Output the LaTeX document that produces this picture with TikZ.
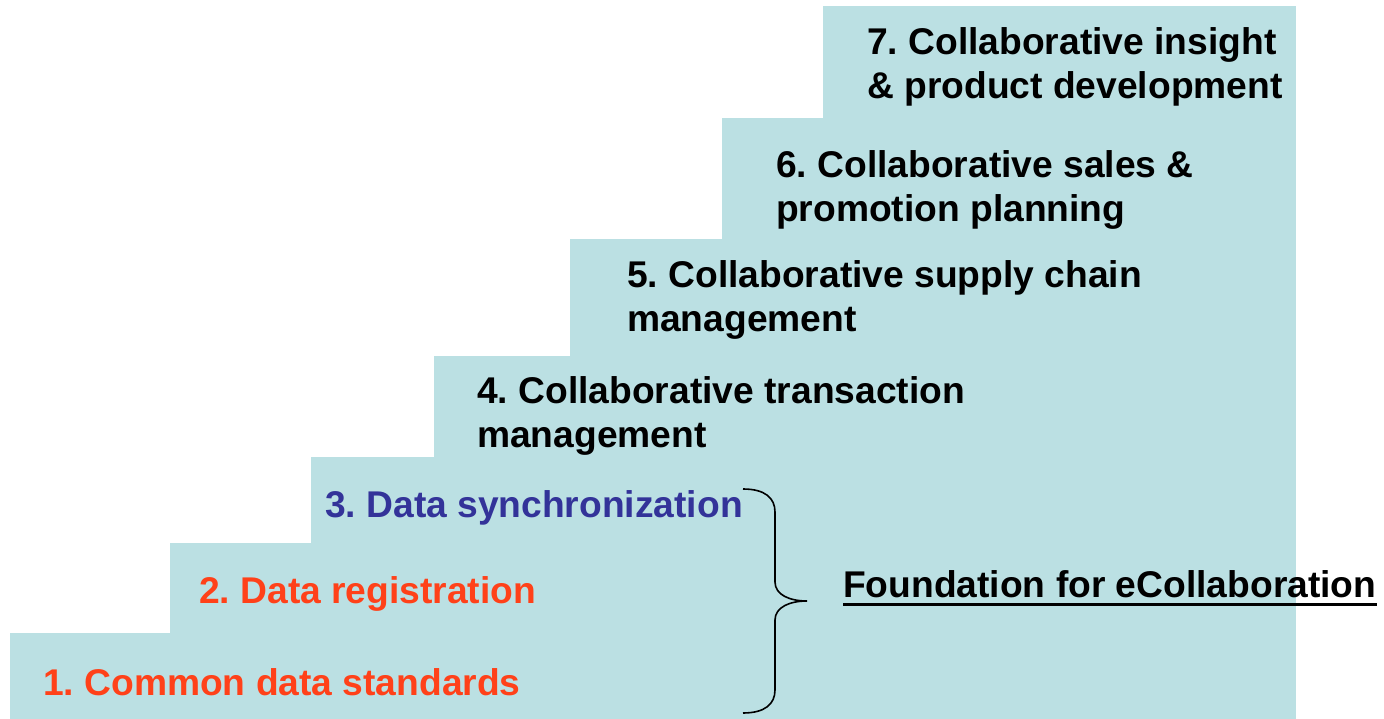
\documentclass[tikz,border=0pt]{standalone}
\usepackage{fontspec}
\setmainfont{Liberation Sans}
\usepackage{tikz}
\usetikzlibrary{positioning,calc}
\definecolor{stairblue}{HTML}{BBE0E3}
\definecolor{stepred}{HTML}{FF4119}
\definecolor{stepblue}{HTML}{333399}
\tikzset{>=latex,
  steptext/.style={anchor=base west,inner sep=0pt,align=left,font=\fontsize{37.2}{44}\selectfont\bfseries\frenchspacing},
  stair/.style={fill=stairblue,draw=none}}

\begin{document}
\begin{tikzpicture}[x=1pt,y=-1pt]
    \useasboundingbox (0,0) rectangle (1384,719);
    \foreach \l/\t in {10/633,170/543,311/457,434/356,570/239,722/118,823/6}
      \fill[stair] (\l,\t) rectangle (1296,719);
    \node[steptext,text=stepred] (s1) at (43,695) {1. Common data standards};
    \node[steptext,text=stepred] (s2) at (199,603) {2. Data registration};
    \node[steptext,text=stepblue] (s3) at (325,517) {3. Data synchronization};
    \node[steptext] (s4) at (477,447) {4. Collaborative transaction\\management};
    \node[steptext] (s5) at (627,331) {5. Collaborative supply chain\\management};
    \node[steptext] (s6) at (776,222) {6. Collaborative sales \&\\promotion planning};
    \node[steptext] (s7) at (867,99) {7. Collaborative insight\\\& product development};
    \node[steptext] (found) at (843,597) {Foundation for eCollaboration};
    \draw[line width=3pt] ([yshift=-7pt]found.base west) -- ([yshift=-7pt]found.base east);
    \draw[line width=1.6pt] (743,489) .. controls (765,489) and (775,498) .. (775,512) -- (775,582)
      .. controls (775,595) and (790,601) .. (807,601)
      .. controls (790,601) and (775,607) .. (775,620) -- (775,690)
      .. controls (775,704) and (765,713) .. (743,713);
  \end{tikzpicture}
\end{document}
